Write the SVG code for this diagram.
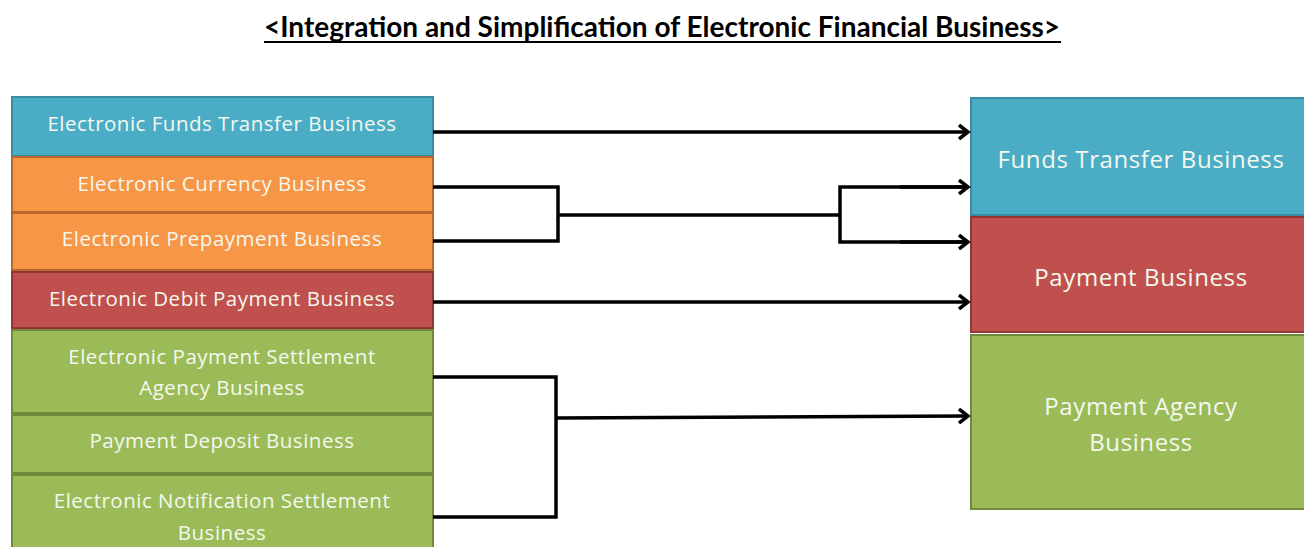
<svg xmlns="http://www.w3.org/2000/svg" width="1304" height="547" viewBox="0 0 1304 547">
<style>
.t{font-family:"Open Sans","Liberation Sans",sans-serif;fill:#f4f8ee;text-anchor:middle}
.s{font-size:20.5px;letter-spacing:0.5px}
.b{font-size:24px;letter-spacing:0.6px}
.blue{fill:#4bacc6;stroke:#3a8ca3;stroke-width:2}
.orange{fill:#f79646;stroke:#b8682c;stroke-width:2}
.red{fill:#c0504d;stroke:#913633;stroke-width:2}
.green{fill:#9bbb59;stroke:#6f8a3a;stroke-width:2}
.c{fill:none;stroke:#000;stroke-width:3.5;stroke-linejoin:miter}
.title{font-family:Lato,"Liberation Sans",sans-serif;font-weight:bold;font-size:28px;fill:#000;text-anchor:middle}
</style>
<defs>
<marker id="arr" markerWidth="14" markerHeight="16" refX="11" refY="8" orient="auto" markerUnits="userSpaceOnUse">
<polyline points="2,1 11,8 2,15" fill="none" stroke="#000" stroke-width="3.5"/>
</marker>
</defs>
<g id="title">
<text class="title" x="662" y="37">&lt;Integration and Simplification of Electronic Financial Business&gt;</text>
<line x1="264" y1="42" x2="1061" y2="42" stroke="#000" stroke-width="2"/>
</g>
<g id="n-eft"><rect class="blue" x="12" y="97" width="421" height="59"/><text class="t s" x="222" y="131">Electronic Funds Transfer Business</text></g>
<g id="n-ecur"><rect class="orange" x="12" y="157" width="421" height="55"/><text class="t s" x="222" y="191">Electronic Currency Business</text></g>
<g id="n-epre"><rect class="orange" x="12" y="213" width="421" height="57"/><text class="t s" x="222" y="246">Electronic Prepayment Business</text></g>
<g id="n-edeb"><rect class="red" x="12" y="272" width="421" height="56"/><text class="t s" x="222" y="306">Electronic Debit Payment Business</text></g>
<g id="n-epsa"><rect class="green" x="12" y="330" width="421" height="83"/><text class="t s" x="222" y="364">Electronic Payment Settlement</text><text class="t s" x="222" y="395">Agency Business</text></g>
<g id="n-pdep"><rect class="green" x="12" y="415" width="421" height="58"/><text class="t s" x="222" y="448">Payment Deposit Business</text></g>
<g id="n-ens"><rect class="green" x="12" y="475" width="421" height="80"/><text class="t s" x="222" y="508">Electronic Notification Settlement</text><text class="t s" x="222" y="540">Business</text></g>
<g id="n-ftb"><rect class="blue" x="971" y="98" width="345" height="117"/><text class="t b" x="1141" y="168">Funds Transfer Business</text></g>
<g id="n-pb"><rect class="red" x="971" y="217" width="345" height="115"/><text class="t b" x="1141" y="286">Payment Business</text></g>
<g id="n-pab"><rect class="green" x="971" y="335" width="345" height="174"/><text class="t b" x="1141" y="415">Payment Agency</text><text class="t b" x="1141" y="451">Business</text></g>
<g id="connectors">
<line class="c" x1="433" y1="132" x2="968" y2="132" marker-end="url(#arr)"/>
<polyline class="c" points="433,187 558,187 558,241 433,241"/>
<line class="c" x1="558" y1="215" x2="840" y2="215"/>
<polyline class="c" points="966,187 840,187 840,242 966,242"/>
<line class="c" x1="900" y1="187" x2="968" y2="187" marker-end="url(#arr)"/>
<line class="c" x1="900" y1="242" x2="968" y2="242" marker-end="url(#arr)"/>
<line class="c" x1="433" y1="302" x2="968" y2="302" marker-end="url(#arr)"/>
<polyline class="c" points="433,377 556,377 556,517 433,517"/>
<line class="c" x1="556" y1="418" x2="968" y2="416" marker-end="url(#arr)"/>
</g>
</svg>
